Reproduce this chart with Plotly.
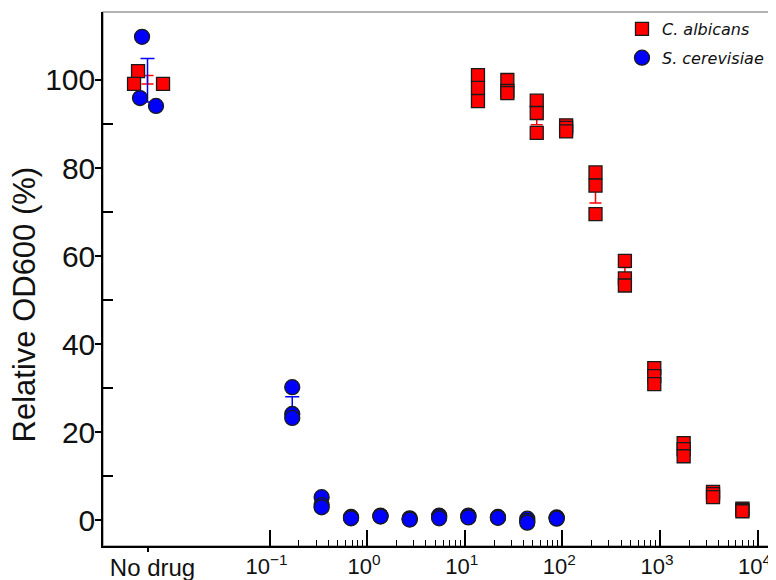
import numpy as np
import plotly.graph_objects as go

# ---------------- data ----------------
# "No drug" control (placed at its own category position left of the log scale)
nodrug_label = "No drug"
ca_nodrug = [102.0, 99.1, 99.1]
sc_nodrug = [109.8, 95.9, 94.1]
# horizontal jitter of the control replicates (in decades)
ca_nodrug_jitter = [-0.097, -0.138, 0.159]
sc_nodrug_jitter = [-0.056, -0.077, 0.087]

# C. albicans concentration series and three replicates
ca_conc = [13.67, 27.34, 54.69, 109.4, 218.75, 437.5, 875, 1750, 3500, 7000]
ca_rep1 = [101.1, 100.0, 95.3, 89.7, 79.0, 58.9, 34.5, 17.5, 6.4, 2.6]
ca_rep2 = [98.2, 97.5, 92.5, 89.1, 76.0, 54.9, 32.7, 16.1, 5.9, 2.3]
ca_rep3 = [95.2, 97.0, 88.0, 88.3, 69.5, 53.3, 30.9, 14.5, 5.2, 2.0]

# S. cerevisiae concentration series and three replicates
sc_conc = [0.171, 0.342, 0.684, 1.37, 2.73, 5.47, 10.9, 21.9, 43.75, 87.5]
sc_rep1 = [30.2, 5.2, 0.7, 1.0, 0.4, 1.0, 1.0, 0.7, 0.3, 0.6]
sc_rep2 = [24.1, 3.4, 0.5, 0.9, 0.2, 0.8, 0.9, 0.6, -0.2, 0.5]
sc_rep3 = [23.2, 2.9, 0.4, 0.8, 0.1, 0.4, 0.6, 0.5, -0.6, 0.3]

x_tickvals = [0.1, 1, 10, 100, 1000, 10000]
x_ticktext = ["10<sup>\u22121</sup>", "10<sup>0</sup>", "10<sup>1</sup>",
              "10<sup>2</sup>", "10<sup>3</sup>", "10<sup>4</sup>"]
y_tickvals = [0, 20, 40, 60, 80, 100]
y_minor = [10, 30, 50, 70, 90]

NODRUG_X = 10 ** -2.25
XRANGE = [-2.706, 4.138]
YRANGE = [-5.9, 115.45]

RED = "#ff0000"
BLUE = "#0000ff"


def stats(reps):
    a = np.array(reps, dtype=float)
    return a.mean(axis=0), a.std(axis=0, ddof=1) / np.sqrt(a.shape[0])


fig = go.Figure()

# ---- error bars (mean +/- SEM) ----
ca_all = np.array([ca_rep1, ca_rep2, ca_rep3])
sc_all = np.array([sc_rep1, sc_rep2, sc_rep3])
ca_m, ca_e = stats(ca_all)
sc_m, sc_e = stats(sc_all)
ca0_m, ca0_e = stats(np.array(ca_nodrug)[:, None])
sc0_m, sc0_e = stats(np.array(sc_nodrug)[:, None])

fig.add_trace(go.Scatter(
    x=[NODRUG_X] + ca_conc, y=list(ca0_m) + list(ca_m), mode="markers",
    marker=dict(size=1, opacity=0), showlegend=False, hoverinfo="skip",
    error_y=dict(type="data", array=list(ca0_e) + list(ca_e), color=RED,
                 thickness=1.5, width=6)))
fig.add_trace(go.Scatter(
    x=[NODRUG_X] + sc_conc, y=list(sc0_m) + list(sc_m), mode="markers",
    marker=dict(size=1, opacity=0), showlegend=False, hoverinfo="skip",
    error_y=dict(type="data", array=list(sc0_e) + list(sc_e), color=BLUE,
                 thickness=1.5, width=7)))

# ---- individual replicates ----
ca_x = [NODRUG_X * 10 ** j for j in ca_nodrug_jitter] + ca_conc * 3
ca_y = ca_nodrug + ca_rep1 + ca_rep2 + ca_rep3
sc_x = [NODRUG_X * 10 ** j for j in sc_nodrug_jitter] + sc_conc * 3
sc_y = sc_nodrug + sc_rep1 + sc_rep2 + sc_rep3

fig.add_trace(go.Scatter(
    x=ca_x, y=ca_y, mode="markers", name="C. albicans", legendgroup="ca",
    marker=dict(symbol="square", size=13, color=RED,
                line=dict(color="#1a1a1a", width=1.3))))
fig.add_trace(go.Scatter(
    x=sc_x, y=sc_y, mode="markers", name="S. cerevisiae", legendgroup="sc",
    marker=dict(symbol="circle", size=15, color=BLUE,
                line=dict(color="#1a1a1a", width=1.3))))

# dummy trace to activate the overlay axis for the "No drug" tick
fig.add_trace(go.Scatter(x=[NODRUG_X], y=[None], xaxis="x2", showlegend=False,
                         hoverinfo="skip", mode="markers"))

FONT = "Liberation Sans, Arial, sans-serif"
tickfont = dict(family=FONT, size=22, color="#111")

# the page body has an 8px margin, so the figure is sized to fit the window
fig.update_layout(
    width=768, height=572,
    margin=dict(l=95, r=5, t=4, b=34, pad=0, autoexpand=False),
    paper_bgcolor="white", plot_bgcolor="white",
    showlegend=True,
    legend=dict(x=0.997, y=1.0, xanchor="right", yanchor="top",
                bgcolor="rgba(0,0,0,0)", traceorder="grouped",
                tracegroupgap=5, itemwidth=30,
                font=dict(family="DejaVu Sans", size=16, style="italic",
                          color="#111")),
    xaxis=dict(type="log", range=XRANGE, showgrid=False, zeroline=False,
               automargin=False,
               showline=True, linecolor="black", linewidth=1.5,
               tickmode="array", tickvals=x_tickvals, ticktext=x_ticktext,
               ticks="inside", ticklen=16, tickwidth=1.5, tickcolor="black",
               tickfont=tickfont, ticklabelshift=-3,
               minor=dict(tickmode="array",
                          tickvals=[m * 10 ** e for e in range(-1, 4) for m in range(2, 10)],
                          ticks="inside", ticklen=6, tickwidth=1.2,
                          tickcolor="black")),
    xaxis2=dict(type="log", range=XRANGE, overlaying="x", anchor="y",
                automargin=False,
                side="bottom", showgrid=False, zeroline=False, showline=False,
                tickmode="array", tickvals=[NODRUG_X], ticktext=[nodrug_label],
                ticks="outside", ticklen=5, tickwidth=2, tickcolor="black",
                tickfont=dict(family=FONT, size=24, color="#111"),
                ticklabelstandoff=-5, ticklabelshift=5),
    yaxis=dict(range=YRANGE, showgrid=False, zeroline=False,
               automargin=False,
               showline=True, linecolor="black", linewidth=1.5,
               tickmode="array", tickvals=y_tickvals,
               ticks="outside", ticklen=6, tickwidth=1.5, tickcolor="black",
               tickfont=dict(family=FONT, size=30, color="#111"),
               ticklabelstandoff=-6,
               minor=dict(tickmode="array", tickvals=y_minor, ticks="inside",
                          ticklen=10, tickwidth=1.5, tickcolor="black")),
    shapes=[dict(type="rect", xref="x domain", yref="y domain",
                 x0=0, x1=1, y0=0, y1=1, line=dict(color="#9a9a9a", width=1.5),
                 layer="below")],
    annotations=[dict(text="Relative OD600 (%)", xref="paper", yref="paper",
                      x=-0.117, y=0.452, xanchor="center", yanchor="middle",
                      textangle=-90, showarrow=False,
                      font=dict(family=FONT, size=31, color="#111"))],
)

fig.write_html("out.html")
